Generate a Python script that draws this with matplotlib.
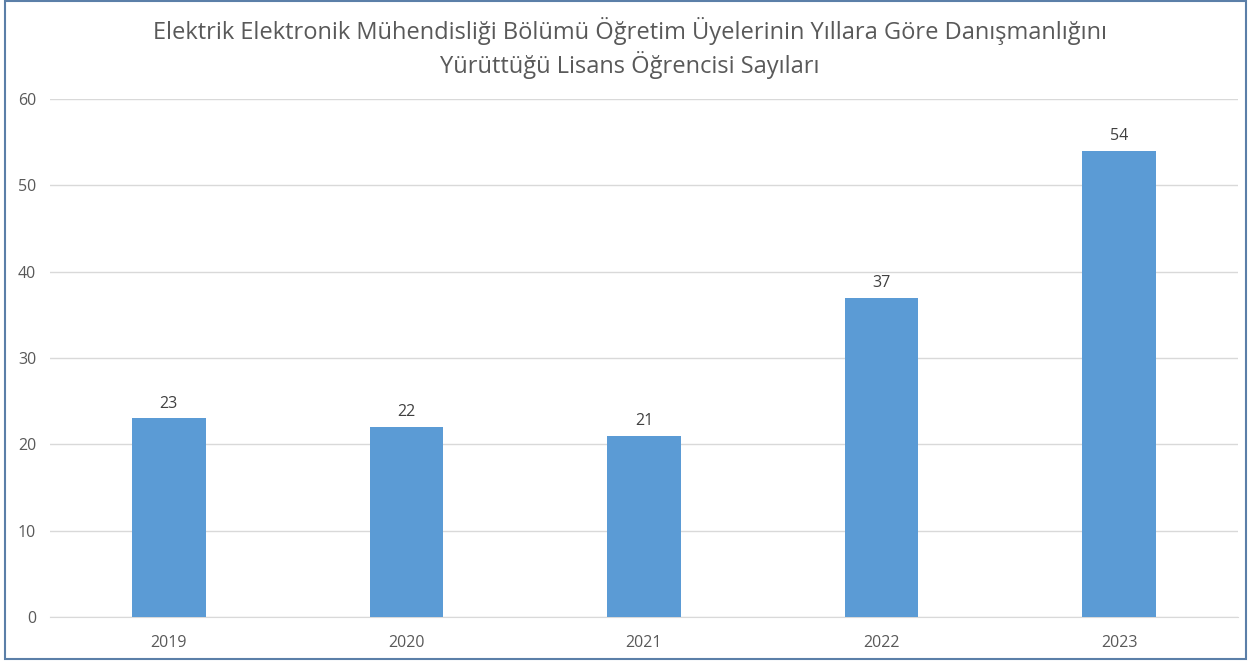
import matplotlib.pyplot as plt
from matplotlib.patches import Rectangle

years = ['2019', '2020', '2021', '2022', '2023']
counts = [23, 22, 21, 37, 54]
yticks = [0, 10, 20, 30, 40, 50, 60]

plt.rcParams['font.family'] = ['Open Sans', 'DejaVu Sans']

fig = plt.figure(figsize=(12.59, 6.63), dpi=100)
ax = fig.add_axes([50/1259, 46/663, 1188/1259, 518/663])

x = range(len(years))
bars = ax.bar(x, counts, width=0.31, color='#5B9BD5', zorder=3)
for xi, v in zip(x, counts):
    ax.text(xi, v + 0.8, str(v), ha='center', va='bottom', fontsize=11.5, color='#404040')

ax.set_xlim(-0.5, 4.5)
ax.set_ylim(0, 60)
ax.set_yticks(yticks)
ax.set_xticks(list(x))
ax.set_xticklabels(years)
ax.grid(axis='y', color='#D9D9D9', linewidth=1, zorder=0)
for s in ['top', 'right', 'left']:
    ax.spines[s].set_visible(False)
ax.spines['bottom'].set_color('#D9D9D9')
ax.tick_params(axis='both', length=0, labelsize=11.5, labelcolor='#595959')
ax.tick_params(axis='x', pad=13)
ax.tick_params(axis='y', pad=10)

fig.text(630/1259, 1 - 48/663,
         'Elektrik Elektronik Mühendisliği Bölümü Öğretim Üyelerinin Yıllara Göre Danışmanlığını\nYürüttüğü Lisans Öğrencisi Sayıları',
         ha='center', va='center', fontsize=17, color='#595959', linespacing=1.25)

fig.patches.append(Rectangle((5/1259, 4/663), 1241/1259, 658/663, transform=fig.transFigure,
                             fill=False, edgecolor='#5B7FA8', linewidth=1.5))

fig.savefig('out.png', dpi=100)
